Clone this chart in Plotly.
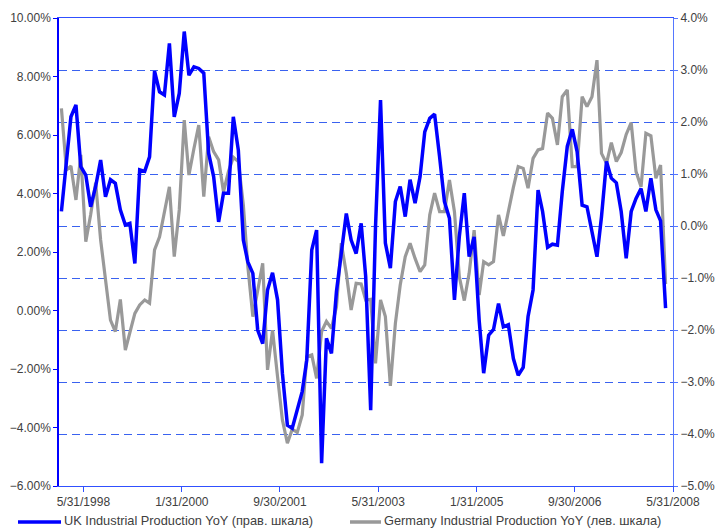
import pandas as pd
import plotly.graph_objects as go

# Monthly observations, Jan 1998 .. Apr 2008 (plotted mid-month)
start_month = "1998-01-01"
n_months = 124

uk_yoy = [  # right axis, %
    0.28, 1.33, 2.10, 2.33, 1.14, 0.98, 0.37, 0.76, 1.27, 0.56, 0.89, 0.82,
    0.31, 0.02, 0.05, -0.72, 1.08, 1.05, 1.33, 2.98, 2.58, 2.52, 3.51, 2.10,
    2.55, 3.74, 2.90, 3.06, 3.03, 2.94, 1.40, 0.95, 0.08, 0.63, 0.63, 2.10,
    1.46, -0.27, -0.69, -0.91, -2.00, -2.26, -1.23, -0.90, -1.42, -2.83, -3.83, -3.89,
    -3.55, -3.18, -2.58, -0.46, -0.08, -4.56, -2.16, -2.45, -1.26, -0.56, 0.24, -0.27,
    -0.53, 0.05, -0.97, -3.54, -0.01, 2.42, -0.33, -0.81, 0.47, 0.76, 0.18, 0.89,
    0.44, 0.95, 1.81, 2.07, 2.15, 1.33, 0.47, 0.15, -1.42, -0.21, 0.63, -0.59,
    -0.21, -1.81, -2.83, -2.10, -1.99, -1.49, -1.94, -1.90, -2.55, -2.87, -2.72, -1.74,
    -1.23, 0.69, 0.28, -0.41, -0.35, -0.37, 0.66, 1.53, 1.86, 1.43, 0.40, 0.37,
    -0.08, -0.59, 0.18, 1.24, 0.92, 0.83, 0.28, -0.62, 0.28, 0.53, 0.72, 0.28,
    0.92, 0.31, 0.10, -1.58,
]

germany_yoy = [  # left axis, %
    6.91, 4.80, 4.94, 3.78, 5.32, 2.35, 3.27, 4.37, 2.41, 1.04, -0.33, -0.72,
    0.38, -1.35, -0.72, -0.10, 0.19, 0.36, 0.25, 2.07, 2.52, 3.32, 4.23, 1.84,
    3.44, 6.51, 4.63, 5.54, 6.34, 3.89, 5.94, 5.43, 5.15, 4.06, 4.75, 5.24,
    5.09, 3.61, 1.50, -0.21, 0.70, 1.61, -2.03, -0.67, -2.26, -3.74, -4.54, -4.06,
    -4.17, -3.57, -1.58, -1.52, -2.32, -0.72, -0.37, -0.61, 0.13, 2.30, 1.27, 0.02,
    0.93, 0.91, 0.36, 0.38, -1.81, 0.36, -0.21, -2.58, -0.44, 0.87, 1.84, 2.30,
    1.78, 1.33, 1.56, 3.27, 4.01, 3.38, 3.38, 4.46, 3.38, 1.16, 0.34, 1.27,
    2.75, 0.53, 1.67, 1.56, 1.67, 3.27, 2.55, 3.41, 4.21, 4.92, 4.86, 4.18,
    5.20, 5.49, 5.54, 6.75, 6.57, 5.66, 7.31, 7.54, 4.92, 4.92, 7.31, 6.97,
    7.31, 8.56, 5.37, 5.03, 5.74, 5.09, 5.40, 6.02, 6.42, 4.75, 4.23, 6.06,
    5.97, 4.52, 4.97, 0.90,
]

tick_dates = ["1998-05-31", "2000-01-31", "2001-09-30", "2003-05-31",
              "2005-01-31", "2006-09-30", "2008-05-31"]
tick_labels = ["5/31/1998", "1/31/2000", "9/30/2001", "5/31/2003",
               "1/31/2005", "9/30/2006", "5/31/2008"]

uk_name = "UK Industrial Production YoY (прав. шкала)"
de_name = "Germany Industrial Production YoY (лев. шкала)"

dates = pd.date_range(start=start_month, periods=n_months, freq="MS") + pd.Timedelta(days=14)

BLUE = "#0000ff"
GRAY = "#999999"
TXT = "#404040"
FONT = "Liberation Sans, Arial, sans-serif"

fig = go.Figure()
fig.add_trace(go.Scatter(x=dates, y=germany_yoy, mode="lines", name=de_name,
                         line=dict(color=GRAY, width=3.2), yaxis="y"))
fig.add_trace(go.Scatter(x=dates, y=uk_yoy, mode="lines", name=uk_name,
                         line=dict(color=BLUE, width=3.5), yaxis="y2"))

fig.update_layout(
    width=716, height=529,
    margin=dict(l=59, r=43, t=18, b=43, autoexpand=False),
    paper_bgcolor="white", plot_bgcolor="white",
    showlegend=False,
    font=dict(family=FONT, size=12, color=TXT),
    xaxis=dict(
        type="date", range=["1997-12-31", "2008-05-31"],
        tickvals=tick_dates, ticktext=tick_labels,
        showgrid=False, zeroline=False, automargin=False,
        showline=True, linecolor="#3050ff", linewidth=1, mirror=True,
        ticks="outside", ticklen=5, tickcolor="#3050ff",
        tickfont=dict(size=12, color=TXT),
    ),
    yaxis=dict(
        range=[-6, 10], dtick=2, tick0=0,
        tickformat=".2f", ticksuffix="%",
        showgrid=False, zeroline=False, automargin=False,
        showline=True, linecolor=BLUE, linewidth=1.5,
        ticks="outside", ticklen=4, tickcolor=BLUE,
        tickfont=dict(size=12, color=TXT),
    ),
    yaxis2=dict(
        range=[-5, 4], dtick=1, tick0=0,
        tickformat=".1f", ticksuffix="%",
        overlaying="y", side="right", automargin=False,
        showgrid=True, gridcolor="#3a62f0", gridwidth=1, griddash="8px,5px",
        zeroline=False,
        showline=True, linecolor="#5577ff", linewidth=1,
        ticks="outside", ticklen=4, tickcolor="#5577ff",
        tickfont=dict(size=12, color=TXT),
    ),
)

# Legend drawn below the plot (line samples + labels)
W, H = 716 - 59 - 43, 529 - 18 - 43
def xp(px):
    return (px - 59) / W
def yp(py):
    return (486 - py) / H

fig.add_shape(type="line", xref="paper", yref="paper",
              x0=xp(18), x1=xp(61), y0=yp(522), y1=yp(522),
              line=dict(color=BLUE, width=3.5))
fig.add_shape(type="line", xref="paper", yref="paper",
              x0=xp(350), x1=xp(381), y0=yp(522), y1=yp(522),
              line=dict(color=GRAY, width=3.5))
fig.add_annotation(text=uk_name, xref="paper", yref="paper",
                   x=xp(62), y=yp(520), xanchor="left", yanchor="middle",
                   showarrow=False, font=dict(size=12.8, color=TXT))
fig.add_annotation(text=de_name, xref="paper", yref="paper",
                   x=xp(382), y=yp(520), xanchor="left", yanchor="middle",
                   showarrow=False, font=dict(size=12.8, color=TXT))

fig.write_html(
    "out.html",
    config={"displayModeBar": False},
    post_script="document.body.style.margin='0';document.body.style.padding='0';document.body.style.overflow='hidden';",
)
